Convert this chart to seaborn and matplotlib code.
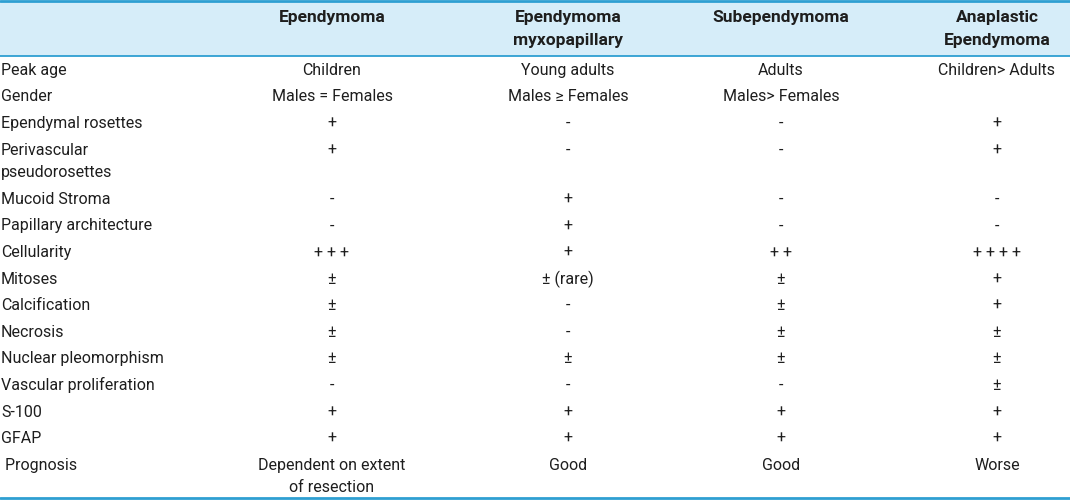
import matplotlib
matplotlib.use('Agg')
import matplotlib.pyplot as plt
import seaborn as sns

# Table content
columns = ['Ependymoma', 'Ependymoma\nmyxopapillary', 'Subependymoma', 'Anaplastic\nEpendymoma']
features = ['Peak age', 'Gender', 'Ependymal rosettes', 'Perivascular\npseudorosettes',
            'Mucoid Stroma', 'Papillary architecture', 'Cellularity', 'Mitoses',
            'Calcification', 'Necrosis', 'Nuclear pleomorphism', 'Vascular proliferation',
            'S-100', 'GFAP', ' Prognosis']
ependymoma = ['Children', 'Males = Females', '+', '+', '-', '-', '+++', '±', '±', '±',
              '±', '-', '+', '+', 'Dependent on extent\nof resection']
myxopapillary = ['Young adults', 'Males ≥ Females', '-', '-', '+', '+', '+', '± (rare)',
                 '-', '-', '±', '-', '+', '+', 'Good']
subependymoma = ['Adults', 'Males> Females', '-', '-', '-', '-', '++', '±', '±', '±',
                 '±', '-', '+', '+', 'Good']
anaplastic = ['Children> Adults', '', '+', '+', '-', '-', '++++', '+', '+', '±',
              '±', '±', '+', '+', 'Worse']

sns.set_theme(style='white')
plt.rcParams['font.family'] = ['Roboto', 'DejaVu Sans']

W, H = 1070, 501
fig = plt.figure(figsize=(W / 100, H / 100), dpi=100)
ax = fig.add_axes([0, 0, 1, 1])
ax.set_xlim(0, W)
ax.set_ylim(H, 0)
ax.axis('off')

line_col = '#2e9fd2'
head_bg = '#d6edf9'
txt_col = '#1e1e1e'
fs = 11.5

col_x = [332, 568, 781, 997]
body = [ependymoma, myxopapillary, subependymoma, anaplastic]


def show(s):
    # plus-only cells are printed with a gap between the signs
    if s and set(s) == {'+'}:
        return ' '.join(s)
    return s


# header
ax.axhspan(1, 56, color=head_bg, lw=0)
ax.axhline(1, color=line_col, lw=2)
ax.axhline(56, color=line_col, lw=1.3)
for x, name in zip(col_x, columns):
    for k, part in enumerate(name.split('\n')):
        ax.text(x, 17 + k * 23.5, part, ha='center', va='center',
                fontsize=12.5, fontweight='bold', color=txt_col)

# body rows
pitch, gap = 26.6, 22.5
top = 57
for i, feat in enumerate(features):
    nlines = max(len(c[i].split('\n')) for c in body + [features])
    for k, part in enumerate(feat.split('\n')):
        ax.text(1, top + pitch / 2 + k * gap, part, ha='left', va='center',
                fontsize=fs, color=txt_col)
    for x, col in zip(col_x, body):
        for k, part in enumerate(show(col[i]).split('\n')):
            ax.text(x, top + pitch / 2 + k * gap, part, ha='center', va='center',
                    fontsize=fs, color=txt_col)
    top += pitch + (nlines - 1) * gap

ax.axhline(497.5, color=line_col, lw=2)

fig.savefig('out.png', dpi=100, facecolor='white')
